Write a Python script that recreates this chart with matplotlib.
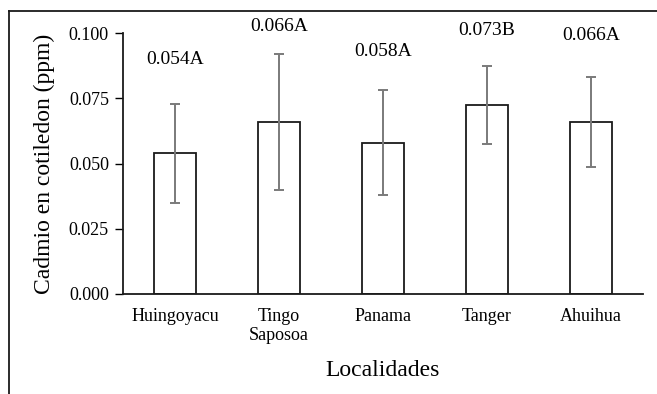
import numpy as np
import matplotlib.pyplot as plt
from matplotlib.lines import Line2D

plt.rcParams['font.family'] = ['Liberation Serif', 'DejaVu Serif']

localidades = ['Huingoyacu', 'Tingo\nSaposoa', 'Panama', 'Tanger', 'Ahuihua']
cadmio = [0.054, 0.066, 0.058, 0.0725, 0.066]
error = [0.019, 0.026, 0.020, 0.015, 0.0173]
etiquetas = ['0.054A', '0.066A', '0.058A', '0.073B', '0.066A']
altura_etiqueta = [0.0897, 0.1024, 0.0928, 0.1011, 0.0992]

fig = plt.figure(figsize=(6.57, 3.94), dpi=100)
ax = fig.add_axes([0.187, 0.254, 0.792, 0.662])

x = np.arange(len(localidades))
ax.bar(x, cadmio, width=0.4, color='white', edgecolor='#1a1a1a', linewidth=1.3)
ax.errorbar(x, cadmio, yerr=error, fmt='none', ecolor='#7a7a7a',
            elinewidth=1.4, capsize=3.3, capthick=1.4)

for xi, lab, h in zip(x, etiquetas, altura_etiqueta):
    ax.text(xi, h, lab, ha='center', va='center', fontsize=14, clip_on=False)

ax.set_xlim(-0.5, len(localidades) - 0.5)
ax.set_ylim(0, 0.1)
ax.set_yticks([0, 0.025, 0.05, 0.075, 0.1])
ax.set_yticklabels(['0.000', '0.025', '0.050', '0.075', '0.100'])
ax.set_xticks(x)
ax.set_xticklabels(localidades, fontsize=13, linespacing=1.15)
ax.tick_params(axis='y', labelsize=13, length=6, width=1, direction='out', pad=4)
ax.tick_params(axis='x', length=0, pad=10)

for s in ['top', 'right']:
    ax.spines[s].set_visible(False)
for s in ['left', 'bottom']:
    ax.spines[s].set_linewidth(1.3)
    ax.spines[s].set_color('#1a1a1a')

ax.set_ylabel('Cadmio en cotiledon (ppm)', fontsize=17, labelpad=10)
ax.set_xlabel('Localidades', fontsize=17, labelpad=12)

# marco exterior de la figura
fig.add_artist(Line2D([9/657, 1], [1 - 11/394, 1 - 11/394], color='#1a1a1a', lw=1.3))
fig.add_artist(Line2D([9/657, 9/657], [0, 1 - 11/394], color='#1a1a1a', lw=1.3))

fig.savefig('out.png', dpi=100)
